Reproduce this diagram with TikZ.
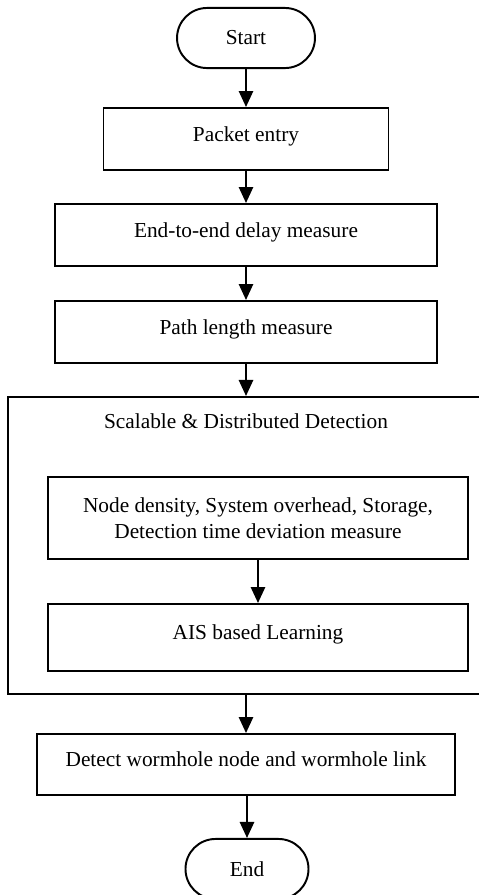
\documentclass[tikz,border=0pt]{standalone}
\usepackage{fontspec}
\setmainfont{Liberation Serif}
\usetikzlibrary{arrows.meta}
\begin{document}
\begin{tikzpicture}[x=0.5625pt,y=-0.5625pt,
	font=\fontsize{12}{14.4}\selectfont,
	box/.style={draw,line width=1.1pt,inner sep=0pt},
	onebox/.style={box,text height=8pt,text depth=5.5pt},
	term/.style={box,rounded corners=16.9pt,minimum width=#1,minimum height=33.8pt},
	arr/.style={line width=1.2pt,-{Triangle[width=8pt,length=9pt]}}]
	\useasboundingbox (0,0) rectangle (479,895);
	\node[term=77.6pt] (start) at (246,38) {Start};
	\node[onebox,minimum width=160.3pt,minimum height=34.9pt] (packet) at (246,139) {Packet entry};
	\node[onebox,minimum width=215.4pt,minimum height=34.9pt] (delay) at (246,235) {End-to-end delay measure};
	\node[onebox,minimum width=215.4pt,minimum height=34.9pt] (pathlen) at (246,332) {Path length measure};
	\node[box,minimum width=271.1pt,minimum height=167.1pt] (sdd) at (249,545.5) {};
	\node[] (sddtitle) at (246,421.5) {Scalable \& Distributed Detection};
	\node[box,align=center,minimum width=236.3pt,minimum height=46.1pt] (density) at (258,518) {Node density, System overhead, Storage,\\Detection time deviation measure};
	\node[onebox,minimum width=236.3pt,minimum height=37.7pt] (ais) at (258,637.5) {AIS based Learning};
	\node[onebox,minimum width=235.1pt,minimum height=34.3pt] (detect) at (246,764.5) {Detect wormhole node and wormhole link};
	\node[term=69.2pt] (end) at (247,869) {End};
	\draw[arr] (start) -- (packet);
	\draw[arr] (packet) -- (delay);
	\draw[arr] (delay) -- (pathlen);
	\draw[arr] (pathlen.south) -- (pathlen.south |- sdd.north);
	\draw[arr] (density) -- (ais);
	\draw[arr] (detect.north |- sdd.south) -- (detect.north);
	\draw[arr] (detect.south) -- (detect.south -| end.north) -- (end.north);
\end{tikzpicture}
\end{document}
